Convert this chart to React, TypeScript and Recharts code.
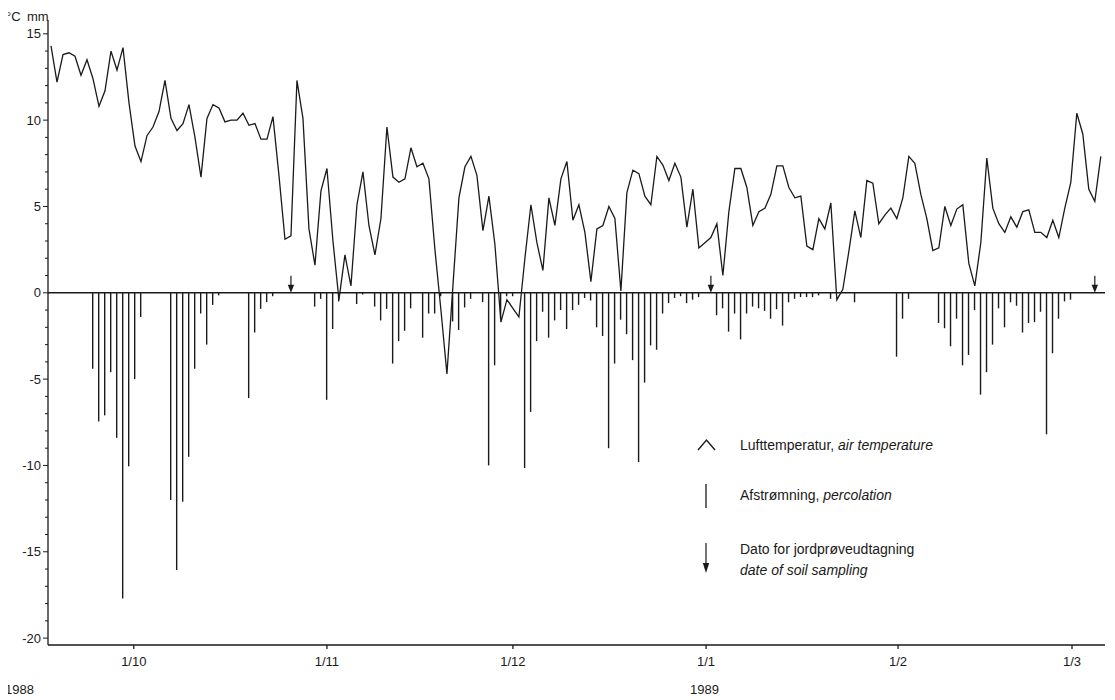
import React from 'react';
import { ComposedChart, Line, Bar, Scatter, XAxis, YAxis, ReferenceLine } from 'recharts';

// Daily air temperature (°C), mid-Sept 1988 to early March 1989
const temperature = [
  14.3, 12.2, 13.8, 13.9, 13.7, 12.6, 13.5, 12.4, 10.8, 11.7,
  14.0, 12.9, 14.2, 11.0, 8.5, 7.6, 9.1, 9.6, 10.5, 12.3,
  10.1, 9.4, 9.8, 10.9, 9.0, 6.7, 10.1, 10.9, 10.7, 9.9,
  10.0, 10.0, 10.4, 9.7, 9.8, 8.9, 8.9, 10.2, 6.8, 3.1,
  3.3, 12.3, 10.1, 3.7, 1.6, 5.9, 7.2, 3.0, -0.4, 2.2,
  0.4, 5.1, 7.0, 3.9, 2.2, 4.3, 9.6, 6.7, 6.4, 6.6,
  8.4, 7.3, 7.5, 6.6, 2.5, -1.0, -4.7, 0.4, 5.5, 7.3,
  7.9, 6.8, 3.6, 5.6, 2.8, -1.7, -0.4, -0.9, -1.4, 2.0,
  5.1, 2.9, 1.3, 5.5, 3.9, 6.6, 7.6, 4.2, 5.1, 3.5,
  0.65, 3.7, 3.9, 5.0, 4.3, 0.1, 5.8, 7.1, 6.9, 5.6,
  5.1, 7.9, 7.4, 6.5, 7.5, 6.7, 3.8, 6.0, 2.6, 2.9,
  3.2, 4.0, 1.0, 4.7, 7.2, 7.2, 6.1, 3.9, 4.7, 4.9,
  5.7, 7.35, 7.35, 6.1, 5.5, 5.6, 2.7, 2.5, 4.3, 3.7,
  5.2, -0.4, 0.2, 2.4, 4.75, 3.2, 6.5, 6.35, 4.0, 4.5,
  4.9, 4.3, 5.5, 7.9, 7.5, 5.7, 4.3, 2.45, 2.6, 5.0,
  3.9, 4.85, 5.1, 1.7, 0.4, 2.9, 7.8, 4.9, 4.0, 3.5,
  4.4, 3.8, 4.7, 4.8, 3.5, 3.5, 3.2, 4.2, 3.2, 4.9,
  6.4, 10.4, 9.2, 6.0, 5.3, 7.9,
];

// Daily percolation (mm), drawn downward
const percolation = [
  0, 0, 0, 0, 0, 0, 0, -4.4, -7.45, -7.1,
  -4.6, -8.4, -17.7, -10.05, -5.0, -1.4, 0, 0, 0, 0,
  -12.0, -16.05, -12.1, -9.5, -4.4, -1.2, -3.0, -0.7, -0.15, 0,
  0, 0, 0, -6.1, -2.3, -0.93, -0.54, -0.2, 0, 0,
  0, 0, 0, 0, -0.8, -0.35, -6.2, -2.1, -0.5, 0,
  0, -0.65, -0.1, 0, -0.8, -1.6, -0.93, -4.1, -2.8, -2.2,
  -0.9, 0, -2.6, -1.2, -1.2, -0.2, 0, -1.66, -2.15, -0.85,
  -0.35, 0, -0.54, -10.0, -4.2, -1.5, -0.2, -0.2, 0, -10.15,
  -6.9, -2.8, -1.1, -2.6, -1.6, -1.0, -2.1, -1.0, -0.7, -0.3,
  -0.45, -2.0, -2.5, -9.0, -4.1, -1.56, -2.4, -3.9, -9.8, -5.2,
  -3.05, -3.3, -1.2, -0.6, -0.3, -0.2, -0.6, -0.4, -0.25, 0,
  0, -1.3, -0.9, -2.25, -1.2, -2.7, -1.2, -0.8, -0.9, -1.05,
  -1.5, -0.95, -1.9, -0.55, -0.35, -0.25, -0.25, -0.25, -0.15, 0,
  -0.35, 0, 0, 0, -0.55, 0, 0, 0, 0, 0,
  0, -3.7, -1.5, -0.35, 0, 0, 0, 0, -1.75, -2.05,
  -3.1, -1.5, -4.2, -3.6, -1.0, -5.9, -4.6, -3.0, -0.9, -2.0,
  -0.55, -0.75, -2.3, -1.75, -1.7, -1.1, -8.2, -3.5, -1.5, -0.5,
  -0.4, 0, 0, 0, 0, 0,
];

// Soil sampling dates (day index)
const samplingDays = [40, 110, 174];

// Month tick positions (day index) and labels
const monthTickPos = [13.8, 46, 77, 109.2, 141.2, 170.2];
const monthTickLabels = ['1/10', '1/11', '1/12', '1/1', '1/2', '1/3'];
const yearLabels = ['1988', '1989'];

const yTicks = [
  -20, -19, -18, -17, -16, -15, -14, -13, -12, -11, -10, -9, -8, -7, -6, -5, -4, -3,
  -2, -1, 0, 1, 2, 3, 4, 5, 6, 7, 8, 9, 10, 11, 12, 13, 14, 15,
];

const data = temperature.map((t, i) => ({ day: i, temp: t, perc: percolation[i] }));
const arrowData = samplingDays.map((d) => ({ day: d, v: 0 }));

const INK = '#1a1a1a';
const AXIS_X = 40;

const YTick = (props: any) => {
  const { y, payload } = props;
  const v = payload.value;
  const major = v % 5 === 0;
  return (
    <g>
      <line x1={AXIS_X - (major ? 5 : 3)} x2={AXIS_X} y1={y} y2={y} stroke={INK} strokeWidth={1} />
      {major && (
        <text x={AXIS_X - 7} y={y} dy="0.35em" textAnchor="end" fontSize={13} fill={INK}>
          {v}
        </text>
      )}
    </g>
  );
};

const ArrowShape = (props: any) => {
  const { cx, cy } = props;
  if (cx == null || cy == null) return null;
  return (
    <g>
      <line x1={cx} x2={cx} y1={cy - 17} y2={cy - 6} stroke={INK} strokeWidth={1.2} />
      <path d={`M${cx - 3.2},${cy - 8} L${cx + 3.2},${cy - 8} L${cx},${cy} Z`} fill={INK} />
    </g>
  );
};

export default function App() {
  return (
    <div
      style={{
        position: 'relative',
        width: 1107,
        height: 692,
        fontFamily: '"Liberation Sans", Arial, Helvetica, sans-serif',
        color: INK,
      }}
    >
      <ComposedChart
        width={1107}
        height={692}
        data={data}
        margin={{ top: 12, right: 10, bottom: 0, left: 0 }}
      >
        <XAxis
          dataKey="day"
          type="number"
          domain={[-0.5, 175.7]}
          allowDataOverflow
          ticks={monthTickPos}
          interval={0}
          tickFormatter={(v: number) => monthTickLabels[monthTickPos.indexOf(v)] ?? ''}
          height={55}
          tickSize={4}
          tickMargin={8}
          stroke={INK}
          strokeWidth={1.3}
          tick={{ fontSize: 13, fill: INK }}
        />
        <YAxis
          type="number"
          domain={[-20.4, 15.8]}
          allowDataOverflow
          ticks={yTicks}
          interval={0}
          width={40}
          tickLine={false}
          tick={<YTick />}
          stroke={INK}
          strokeWidth={1.3}
        />
        <ReferenceLine y={0} stroke={INK} strokeWidth={1.6} />
        <Bar dataKey="perc" fill={INK} barSize={1.4} isAnimationActive={false} />
        <Line
          dataKey="temp"
          type="linear"
          stroke={INK}
          strokeWidth={1.3}
          dot={false}
          isAnimationActive={false}
        />
        <Scatter data={arrowData} dataKey="v" shape={<ArrowShape />} isAnimationActive={false} />
      </ComposedChart>

      <svg
        width={1115}
        height={700}
        style={{ position: 'absolute', left: -8, top: -8, pointerEvents: 'none' }}
      >
        <text x={6} y={21} fontSize={13} fill={INK}>°C</text>
        <text x={27} y={21} fontSize={13} fill={INK}>mm</text>
        <text x={5} y={694} fontSize={13} fill={INK}>{yearLabels[0]}</text>
        <text x={690} y={694} fontSize={13} fill={INK}>{yearLabels[1]}</text>

        <polyline points="698,450 706.5,440 715,450" fill="none" stroke={INK} strokeWidth={1.4} />
        <text x={740} y={450} fontSize={14} fill={INK}>
          Lufttemperatur, <tspan fontStyle="italic">air temperature</tspan>
        </text>

        <line x1={706} x2={706} y1={484} y2={508} stroke={INK} strokeWidth={1.3} />
        <text x={740} y={500} fontSize={14} fill={INK}>
          Afstrømning, <tspan fontStyle="italic">percolation</tspan>
        </text>

        <line x1={706} x2={706} y1={543} y2={566} stroke={INK} strokeWidth={1.2} />
        <path d="M702.8,563 L709.2,563 L706,573 Z" fill={INK} />
        <text x={740} y={554} fontSize={14} fill={INK}>Dato for jordprøveudtagning</text>
        <text x={740} y={575} fontSize={14} fill={INK} fontStyle="italic">date of soil sampling</text>
      </svg>
    </div>
  );
}
